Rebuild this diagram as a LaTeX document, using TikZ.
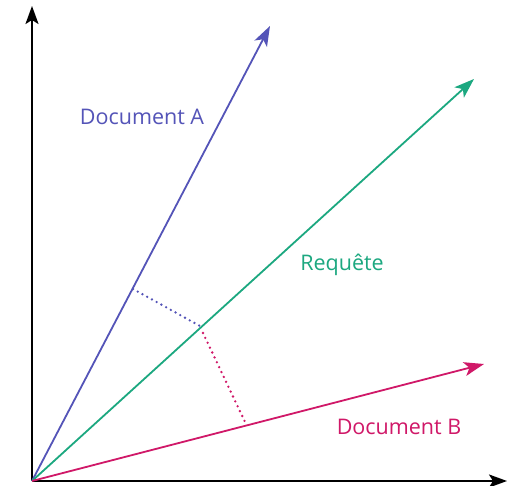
\documentclass[tikz,border=0pt]{standalone}
\usepackage{fontspec}
\setmainfont{Open Sans}
\usetikzlibrary{arrows.meta}
\definecolor{docA}{RGB}{84,84,184}
\definecolor{query}{RGB}{28,168,128}
\definecolor{docB}{RGB}{208,24,104}
\tikzset{
  axis/.style={line width=2.2pt, -{Stealth[length=18pt,width=13pt,inset=4pt]}},
  vec/.style={line width=1.8pt, -{Stealth[length=20pt,width=14pt,inset=5pt]}},
  proj/.style={line width=2.6pt, line cap=round, dash pattern=on 0pt off 5.4pt},
  lbl/.style={font=\fontsize{21.5pt}{24pt}\selectfont, inner sep=0pt}
}
\begin{document}
\begin{tikzpicture}[x=1pt,y=-1pt]
\useasboundingbox (0,0) rectangle (514,486);
\fill[white] (0,0) rectangle (514,486);
\coordinate (O) at (32,481);
\coordinate (Ytip) at (32,6);
\coordinate (Xtip) at (507,481);
\coordinate (Atip) at (270,26);
\coordinate (Qtip) at (474,79);
\coordinate (Btip) at (484,364);
% projection feet
\coordinate (pA) at (133,289);
\coordinate (pQ) at (200,326);
\coordinate (pQ2) at (203,333);
\coordinate (pB) at (246,424);
\draw[axis] (O) -- (Ytip);
\draw[axis] (O) -- (Xtip);
\draw[vec, docA] (O) -- (Atip);
\draw[vec, query] (O) -- (Qtip);
\draw[vec, docB] (O) -- (Btip);
\draw[proj, docA] (pA) -- (pQ);
\draw[proj, docB] (pQ2) -- (pB);
\node[lbl, text=docA] (la) at (142,117) {Document A};
\node[lbl, text=query] (lq) at (342,265) {Requête};
\node[lbl, text=docB] (lb) at (399,427) {Document B};
\end{tikzpicture}
\end{document}
